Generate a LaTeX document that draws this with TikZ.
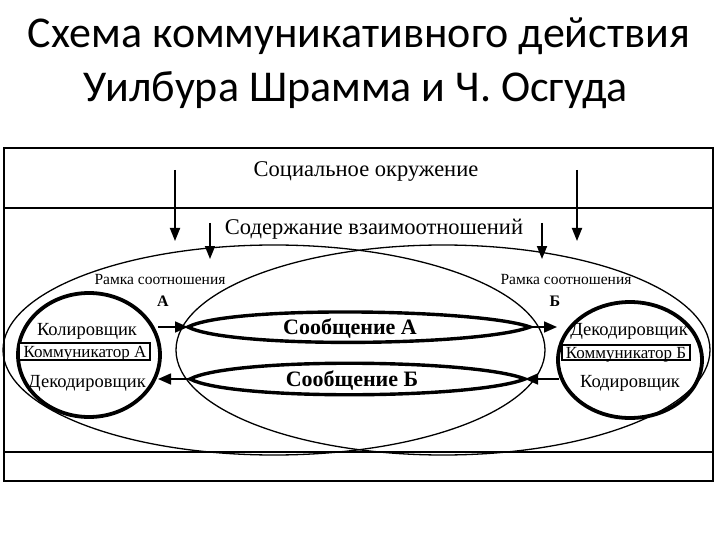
\documentclass[tikz,border=0pt]{standalone}
\usepackage{fontspec}
\setmainfont{Liberation Serif}
\newfontfamily\titlefont{Carlito}
\usetikzlibrary{arrows.meta}
\tikzset{
  titletext/.style={font=\titlefont\fontsize{44}{50}\selectfont, anchor=base, inner sep=0pt},
  bigtext/.style={font=\fontsize{22.5}{26}\selectfont, anchor=base, inner sep=0pt},
  roletext/.style={font=\fontsize{18.5}{22}\selectfont, anchor=base, inner sep=0pt},
  comtext/.style={font=\fontsize{17}{20}\selectfont, anchor=base, inner sep=0pt},
  msgtext/.style={font=\bfseries\fontsize{22}{26}\selectfont, anchor=base, inner sep=0pt},
  frametext/.style={font=\fontsize{15.5}{18}\selectfont, anchor=base, inner sep=0pt},
  letter/.style={font=\bfseries\fontsize{16}{19}\selectfont, anchor=base, inner sep=0pt},
  thinline/.style={line width=1.3pt},
  person/.style={line width=3.8pt},
  lens/.style={line width=3.4pt},
  band/.style={draw, line width=1.2pt, fill=white},
  flow/.style={line width=1.6pt, -{Triangle[length=13pt,width=11pt]}},
  drop/.style={line width=1.8pt, -{Triangle[length=13pt,width=10pt]}},
}
\begin{document}
\begin{tikzpicture}[x=1pt,y=-1pt]
\useasboundingbox[fill=white] (0,0) rectangle (720,540);

% title
\node[titletext] (t1) at (359,48) {Схема коммуникативного действия};
\node[titletext] (t2) at (356,102) {Уилбура Шрамма и Ч. Осгуда};

% frame
\draw[line width=2.8pt] (4,148) rectangle (713,481);
\draw[line width=1.6pt] (4,208) -- (713,208);
\draw[line width=1.6pt] (4,452) -- (713,452);

\node[bigtext] (soc) at (366,177) {Социальное окружение};
\node[bigtext] (cont) at (374,234) {Содержание взаимоотношений};

% frames of reference
\draw[thinline] (274,350) ellipse [x radius=271, y radius=105];
\draw[thinline] (443,350) ellipse [x radius=267, y radius=105];

\node[frametext] (ra) at (160,284) {Рамка соотношения};
\node[letter] (la) at (163,306) {А};
\node[frametext] (rb) at (566,284) {Рамка соотношения};
\node[letter] (lb) at (555,306) {Б};

% vertical arrows
\coordinate (s1) at (175,170); \coordinate (e1) at (175,241);
\coordinate (s2) at (577,170); \coordinate (e2) at (577,241);
\coordinate (s3) at (210,223); \coordinate (e3) at (210,259);
\coordinate (s4) at (542,223); \coordinate (e4) at (542,259);
\draw[drop] (s1) -- (e1);
\draw[drop] (s2) -- (e2);
\draw[drop] (s3) -- (e3);
\draw[drop] (s4) -- (e4);

% communicator A
\draw[person] (89,355) ellipse [x radius=71, y radius=62];
\node[band, minimum width=131pt, minimum height=17pt, inner sep=0pt] (bandA) at (84.5,351.5) {};
\node[roletext] (encA) at (87,335) {Колировщик};
\node[comtext] (comA) at (85,357) {Коммуникатор А};
\node[roletext] (decA) at (87,387) {Декодировщик};

% communicator B
\draw[person] (630,360) ellipse [x radius=72, y radius=58];
\node[band, minimum width=128pt, minimum height=15pt, inner sep=0pt] (bandB) at (626,352.5) {};
\node[roletext] (decB) at (629,335) {Декодировщик};
\node[comtext] (comB) at (626,358) {Коммуникатор Б};
\node[roletext] (encB) at (630,387) {Кодировщик};

% messages
\coordinate (aL) at (188,327); \coordinate (aR) at (530,327);
\coordinate (bL) at (190,379); \coordinate (bR) at (525,379);
\draw[lens] (aL) .. controls (230,305) and (480,309) .. (aR)
             .. controls (480,346) and (230,349) .. (aL) -- cycle;
\draw[lens] (bL) .. controls (232,357) and (475,359) .. (bR)
             .. controls (475,399) and (232,401) .. (bL) -- cycle;
\node[msgtext] (ma) at (350,334) {Сообщение А};
\node[msgtext] (mb) at (352,386) {Сообщение Б};

% flows
\coordinate (aS) at (158,327); \coordinate (aE) at (557,327);
\coordinate (bS) at (559,379); \coordinate (bE) at (158,379);
\draw[flow] (aS) -- (aL);
\draw[flow] (aR) -- (aE);
\draw[flow] (bS) -- (bR);
\draw[flow] (bL) -- (bE);
\end{tikzpicture}
\end{document}
